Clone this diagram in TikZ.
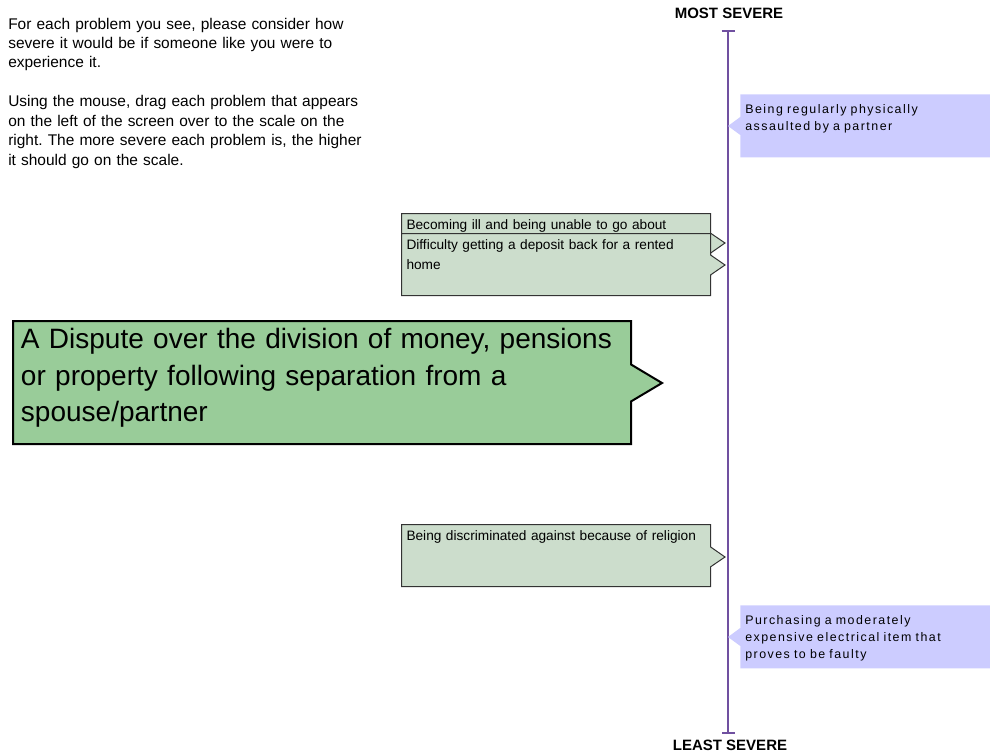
\documentclass[tikz,border=0pt]{standalone}
\usepackage{fontspec}
\setmainfont{Liberation Sans}
\newfontfamily\tagfont[LetterSpace=12]{Liberation Sans}
\usepackage{tikz}
\usetikzlibrary{shapes.callouts}
\usetikzlibrary{arrows.meta}
\definecolor{scalepurple}{RGB}{112,80,160}
\definecolor{cardgreen}{RGB}{204,221,204}
\definecolor{draggreen}{RGB}{153,204,153}
\definecolor{tagblue}{RGB}{204,204,255}
\frenchspacing

\begin{document}
\begin{tikzpicture}[x=0.75pt,y=-0.75pt]
\useasboundingbox (0,0) rectangle (990,754);
\tikzstyle{problem} =
[
	shape			= rectangle callout,	% card with a pointer
	draw			= black!80,			% colour of the border
	line width		= 0.75pt,			% thickness of the border
	fill			= cardgreen,		% filling colour
	font			= \fontsize{10.25pt}{15pt}\selectfont,
	align			= left,
	anchor			= north west,
	text width		= 224.25pt,			% | fixed size of the card
	text height		= 12pt,				% |
	text depth		= 34.5pt,			% |
	inner xsep		= 3.75pt,
	inner ysep		= 0pt,
	callout pointer width = 15pt
]
\tikzstyle{placed} =
[
	shape			= rectangle callout,
	fill			= tagblue,			% no border
	font			= \tagfont\fontsize{9.3pt}{13pt}\selectfont,
	align			= left,
	anchor			= north west,
	text width		= 180pt,
	text height		= 14.25pt,
	text depth		= 33pt,
	inner xsep		= 3.75pt,
	inner ysep		= 0pt,
	callout pointer width = 13.5pt
]
\tikzstyle{scaleLabel} = [font = \bfseries\fontsize{11.25pt}{13pt}\selectfont, anchor = base, inner sep = 0pt]
% instructions
\node (intro) [anchor = base west, align = left, inner sep = 0pt, text width = 270pt,
	font = \fontsize{11.6pt}{14.6pt}\selectfont] at (8,29)
	{For each problem you see, please consider how\\
	severe it would be if someone like you were to\\
	experience it.\\[14.6pt]
	Using the mouse, drag each problem that appears\\
	on the left of the screen over to the scale on the\\
	right. The more severe each problem is, the higher\\
	it should go on the scale.};
% scale
\node (most) [scaleLabel] at (729,18) {MOST SEVERE};
\node (least) [scaleLabel] at (730,750) {LEAST SEVERE};
\coordinate (scaletop) at (728,30);
\coordinate (scalebottom) at (728,734);
\draw [scalepurple, line width = 1.5pt, {Bar[width=9.75pt]}-{Bar[width=9.75pt]}] (scaletop) -- (scalebottom);
% problems already placed
\node (assault) [placed, callout absolute pointer = {(728,126)}] at (740,94) {Being regularly physically\\assaulted by a partner};
\node (faulty) [placed, callout absolute pointer = {(728,637)}] at (740,605) {Purchasing a moderately\\expensive electrical item that\\proves to be faulty};
% problems being dragged
\node (ill) [problem, callout absolute pointer = {(725,243)}] at (401,213) {Becoming ill and being unable to go about};
\node (deposit) [problem, callout absolute pointer = {(725,265)}] at (401,233) {Difficulty getting a deposit back for a rented\\home};
\node (religion) [problem, callout absolute pointer = {(725,557)}] at (401,524) {Being discriminated against because of religion};
\node (dispute) [problem, draw = black, line width = 1.5pt, fill = draggreen,
	font = \fontsize{21pt}{27.5pt}\selectfont, text width = 451.5pt, text height = 20.5pt,
	text depth = 71.75pt, inner xsep = 6pt, callout pointer width = 27.75pt,
	callout absolute pointer = {(662,383)}] at (12,320)
	{A Dispute over the division of money, pensions\\or property following separation from a\\spouse/partner};
\end{tikzpicture}
\end{document}
